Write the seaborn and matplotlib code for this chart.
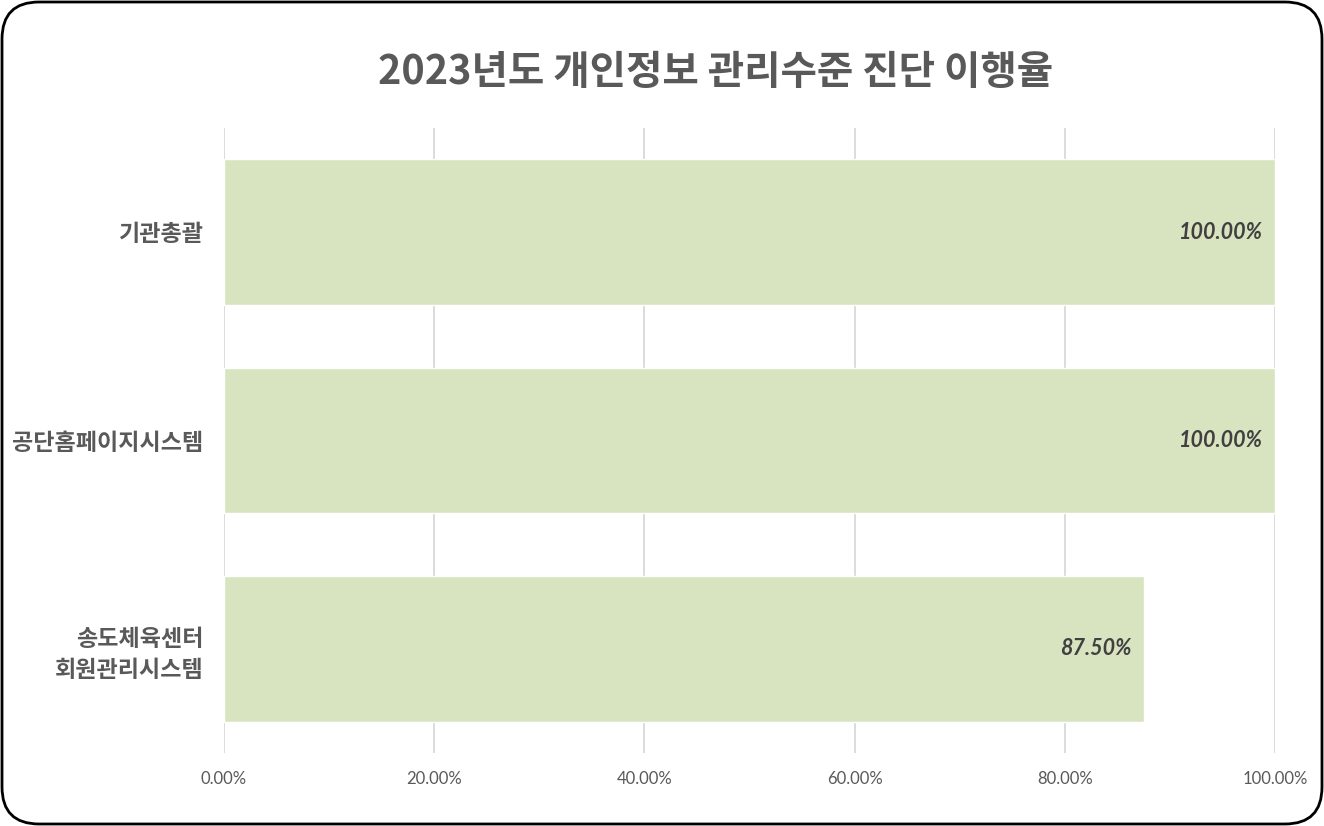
import matplotlib
matplotlib.use("Agg")
import matplotlib.pyplot as plt
import seaborn as sns
import pandas as pd
from matplotlib.patches import FancyBboxPatch
from matplotlib.ticker import FuncFormatter, MultipleLocator

categories = ["기관총괄", "공단홈페이지시스템", "송도체육센터\n회원관리시스템"]
values = [1.0, 1.0, 0.875]
title = "2023년도 개인정보 관리수준 진단 이행율"

sns.set_theme(style="white")
plt.rcParams['font.family'] = ['Noto Sans CJK KR', 'DejaVu Sans']

df = pd.DataFrame({"cat": categories, "val": values})

W, H = 1324, 826
fig = plt.figure(figsize=(W / 100, H / 100), dpi=100)
ax = fig.add_axes([224 / W, 1 - 753 / H, (1275 - 224) / W, (753 - 128) / H])

sns.barplot(data=df, y="cat", x="val", orient="h", color="#D8E4BF",
            saturation=1, width=0.70, ax=ax, zorder=2)

ax.set_xlim(0, 1.0)
ax.set_ylim(2.5, -0.5)
ax.xaxis.set_major_locator(MultipleLocator(0.2))
ax.xaxis.set_major_formatter(FuncFormatter(lambda v, p: f"{v*100:.2f}%"))
ax.grid(axis="x", color="#D9D9D9", linewidth=1.3, zorder=0)
ax.set_axisbelow(True)
for s in ax.spines.values():
    s.set_visible(False)
ax.set_xlabel("")
ax.set_ylabel("")
ax.tick_params(axis="x", length=0, pad=13, labelsize=12, labelcolor="#595959")
ax.tick_params(axis="y", length=0, pad=15, labelsize=16.6, labelcolor="#595959")
for lab in ax.get_xticklabels():
    lab.set_fontfamily(['Lato', 'DejaVu Sans'])
for lab in ax.get_yticklabels():
    lab.set_fontweight("bold")
    lab.set_linespacing(1.4)

for i, v in enumerate(values):
    ax.text(v - 0.011, i, f"{v*100:.2f}%", ha="right", va="center",
            fontsize=15.5, fontweight="bold", fontstyle="italic",
            color="#404040", family=['Lato', 'DejaVu Sans'], zorder=3)

fig.text(716 / W, 1 - 72 / H, title, ha="center", va="center", fontsize=28.5,
         fontweight="bold", color="#595959")

border = FancyBboxPatch((2 / W, 2 / H), (W - 4) / W, (H - 4) / H,
                        boxstyle="round,pad=0,rounding_size=0.028",
                        transform=fig.transFigure, fill=False,
                        edgecolor="black", linewidth=2, mutation_aspect=W / H)
fig.patches.append(border)

fig.savefig("out.png", dpi=100)
